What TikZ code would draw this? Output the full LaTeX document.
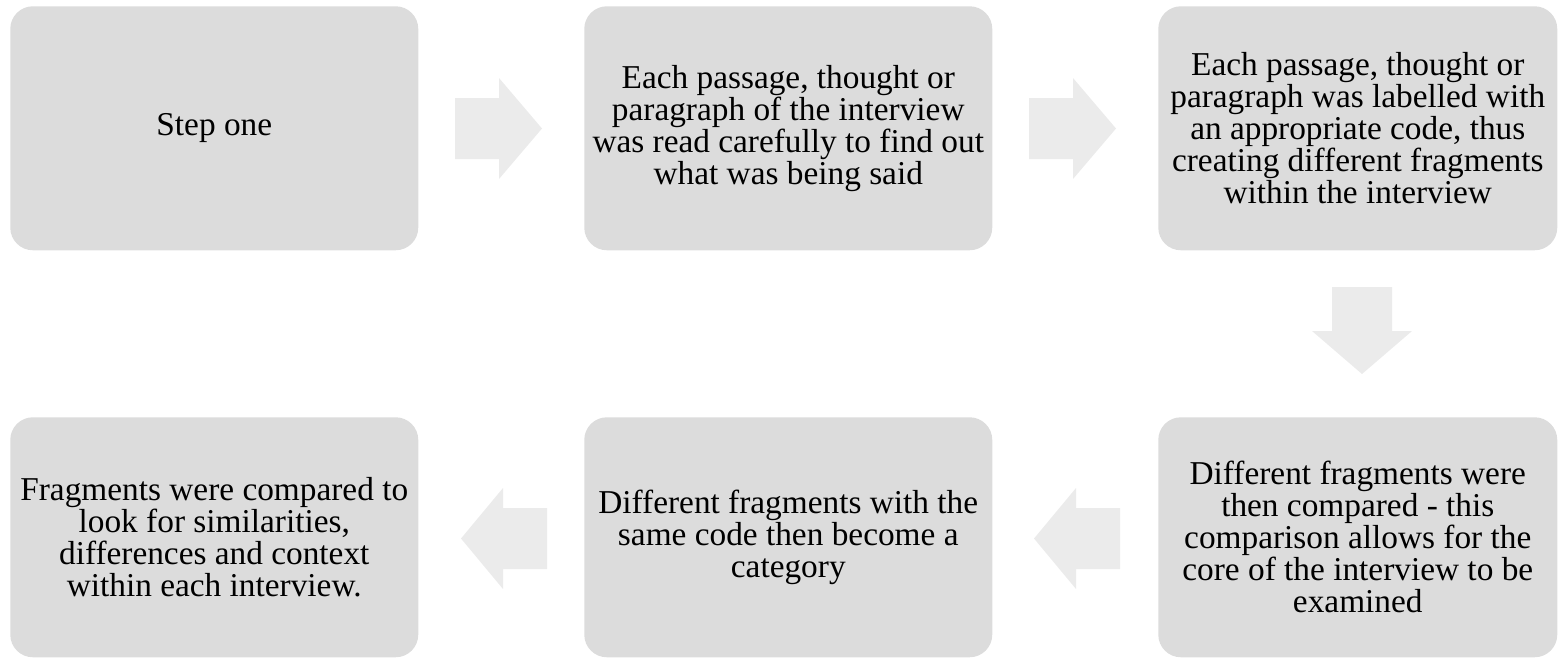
\documentclass[tikz,border=0pt]{standalone}
\usepackage{fontspec}
\setmainfont{Liberation Serif}
\definecolor{boxgray}{HTML}{DCDCDC}
\definecolor{arrowgray}{HTML}{EBEBEB}
\begin{document}
\begin{tikzpicture}[x=0.75pt,y=-0.75pt,
    stepbox/.style={fill=boxgray,rounded corners=17pt,anchor=north west,align=center,
        inner sep=0pt,minimum width=306pt,font=\fontsize{25}{24}\selectfont},
    blockarrow/.style={fill=arrowgray}]
        \useasboundingbox(0,0)rectangle(1558,658);
        % top row
        \node[stepbox,minimum height=183pt](s1)at(10,6){Step one};
        \node[stepbox,minimum height=183pt](s2)at(584,6){Each passage, thought or\\paragraph of the interview\\was read carefully to find out\\what was being said};
        \node[stepbox,minimum height=183pt,minimum width=299.25pt](s3)at(1158,6){Each passage, thought or\\paragraph was labelled with\\an appropriate code, thus\\creating different fragments\\within the interview};
        % bottom row
        \node[stepbox,minimum height=180pt,minimum width=299.25pt](s4)at(1158,417){Different fragments were\\then compared - this\\comparison allows for the\\core of the interview to be\\examined};
        \node[stepbox,minimum height=180pt](s5)at(584,417){Different fragments with the\\same code then become a\\category};
        \node[stepbox,minimum height=180pt](s6)at(10,417){Fragments were compared to\\look for similarities,\\differences and context\\within each interview.};
        % arrows
        \foreach \x in {455,1029}
            \fill[blockarrow](\x,98)--++(44,0)--++(0,-20)--++(43,50.5)--++(-43,50.5)--++(0,-20)--++(-44,0)--cycle;
        \foreach \x in {461,1034}
            \fill[blockarrow](\x,538.5)--++(42,-50.5)--++(0,20)--++(44,0)--++(0,61)--++(-44,0)--++(0,20)--cycle;
        \fill[blockarrow](1332,287)--++(60,0)--++(0,44)--++(20,0)--++(-50,43)--++(-50,-43)--++(20,0)--cycle;
    \end{tikzpicture}
\end{document}
